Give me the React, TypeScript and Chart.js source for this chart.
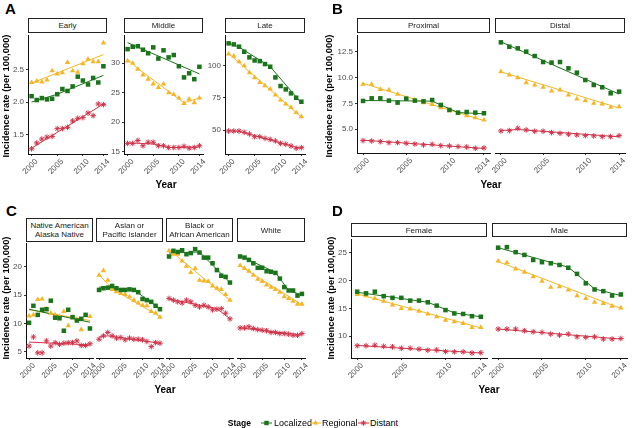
import React, { useEffect, useRef } from "react";
import { Chart, registerables } from "chart.js";

Chart.register(...registerables);

const FONT = "'Liberation Sans', Arial, Helvetica, sans-serif";
const GREEN = "#1B741B";
const YELLOW = "#F5B625";
const RED = "#D03349";
const TICK = "#4D4D4D";

const years = [2000, 2001, 2002, 2003, 2004, 2005, 2006, 2007, 2008, 2009, 2010, 2011, 2012, 2013, 2014];
const xTicks = [2000, 2005, 2010, 2014];
const stageLabels = ["Localized", "Regional", "Distant"];

// ---- Panel A: Early / Middle / Late ----
const earlyLoc = [2.09, 2.03, 2.06, 2.04, 2.05, 2.12, 2.2, 2.17, 2.24, 2.39, 2.33, 2.27, 2.37, 2.3, 2.55];
const earlyReg = [2.3, 2.32, 2.31, 2.34, 2.48, 2.43, 2.45, 2.61, 2.48, 2.46, 2.59, 2.66, 2.62, 2.62, 2.91];
const earlyDist = [1.28, 1.37, 1.43, 1.46, 1.47, 1.59, 1.59, 1.61, 1.71, 1.75, 1.76, 1.83, 1.79, 1.97, 1.96];
const earlyLocFit = [[2000, 2.0], [2005, 2.12], [2014, 2.41]];
const earlyRegFit = [[2000, 2.29], [2014, 2.73]];
const earlyDistFit = [[2000, 1.29], [2014, 1.97]];
const earlyTicks = ["1.5", "2.0", "2.5"];

const middleLoc = [32.4, 32.8, 32.9, 32.3, 31.7, 32.7, 30.8, 32.2, 31.0, 31.4, 29.5, 27.6, 28.3, 27.3, 29.4];
const middleReg = [30.4, 30.0, 29.0, 28.0, 27.3, 26.5, 25.9, 26.5, 25.0, 24.7, 24.1, 23.2, 23.9, 23.3, 24.1];
const middleDist = [16.4, 16.4, 16.9, 16.0, 16.6, 16.6, 16.0, 16.0, 15.7, 15.7, 15.7, 15.9, 15.6, 15.7, 16.0];
const middleLocFit = [[2000, 33.5], [2014, 28.2]];
const middleRegFit = [[2000, 30.6], [2002, 29.1], [2011, 23.3], [2014, 24.1]];
const middleDistFit = [[2000, 16.5], [2005, 16.3], [2008, 15.7], [2014, 15.8]];
const middleTicks = ["15", "20", "25", "30"];

const lateLoc = [117.4, 116.6, 114.8, 110.9, 106.5, 104.1, 103.6, 101.3, 99.2, 90.9, 84.2, 81.6, 78.5, 75.1, 72.0];
const lateReg = [109.1, 107.5, 103.1, 100.0, 94.6, 90.7, 87.0, 84.5, 81.9, 77.2, 73.3, 70.2, 67.6, 63.5, 60.4];
const lateDist = [49.2, 49.2, 49.2, 48.2, 46.9, 44.8, 44.8, 43.5, 42.7, 41.5, 39.6, 38.9, 37.6, 35.8, 36.3];
const lateLocFit = [[2000, 117.6], [2002, 114.5], [2008, 99.3], [2014, 71]];
const lateRegFit = [[2000, 109.5], [2014, 60]];
const lateDistFit = [[2000, 49.5], [2002, 49], [2014, 35.5]];
const lateTicks = ["50", "75", "100"];

// ---- Panel B: Proximal / Distal ----
const proxLoc = [7.74, 7.99, 7.99, 7.77, 7.58, 7.96, 7.77, 7.7, 7.83, 7.35, 6.87, 6.61, 6.67, 6.61, 6.55];
const proxReg = [9.35, 9.35, 8.86, 8.8, 8.38, 7.99, 7.83, 7.58, 7.41, 7.09, 6.8, 6.55, 6.32, 6.13, 5.9];
const proxDist = [3.91, 3.87, 3.81, 3.71, 3.71, 3.65, 3.58, 3.49, 3.55, 3.42, 3.39, 3.33, 3.29, 3.17, 3.2];
const proxLocFit = [[2000, 7.78], [2008, 7.72], [2011, 6.62], [2014, 6.5]];
const proxRegFit = [[2000, 9.44], [2014, 5.84]];
const proxDistFit = [[2000, 3.95], [2014, 3.15]];

const distalLoc = [13.4, 12.98, 12.82, 12.5, 12.08, 11.5, 11.44, 11.5, 10.89, 10.47, 9.76, 9.28, 9.06, 8.48, 8.64];
const distalReg = [10.57, 10.25, 9.99, 9.51, 9.28, 9.06, 8.7, 8.8, 8.32, 7.93, 7.77, 7.51, 7.45, 7.13, 7.19];
const distalDist = [4.84, 4.87, 5.1, 4.94, 4.81, 4.81, 4.68, 4.61, 4.52, 4.45, 4.39, 4.36, 4.29, 4.29, 4.39];
const distalLocFit = [[2000, 13.45], [2014, 8.4]];
const distalRegFit = [[2000, 10.55], [2014, 7.05]];
const distalDistFit = [[2000, 4.88], [2002, 4.98], [2014, 4.28]];
const bTicks = ["5.0", "7.5", "10.0", "12.5"];

// ---- Panel C: race ----
const naLoc = [10.1, 13.1, 11.5, 12.4, 12.5, 14.0, 11.0, 10.9, 8.7, 12.4, 11.1, 10.5, 10.8, 11.5, 9.1];
const naReg = [11.3, 11.5, 14.2, 14.3, 12.5, 11.8, 11.5, 11.2, 12.1, 9.6, 11.0, 10.7, 8.9, 11.4, 11.2];
const naDist = [6.0, 7.6, 4.8, 4.8, 6.9, 6.0, 6.6, 6.3, 6.5, 6.6, 6.6, 6.9, 6.1, 6.1, 6.4];
const naLocFit = [[2000, 12.5], [2014, 10.2]];
const naRegFit = [[2000, 12.4], [2014, 10.5]];
const naDistFit = [[2000, 6.7], [2014, 6.2]];

const asianLoc = [15.9, 16.2, 16.3, 16.6, 16.2, 15.9, 15.9, 16.0, 15.9, 15.5, 14.3, 14.1, 13.8, 13.1, 12.5];
const asianReg = [18.5, 19.3, 17.6, 16.0, 15.6, 15.3, 15.1, 14.7, 14.1, 13.6, 13.2, 13.1, 12.1, 11.8, 11.1];
const asianDist = [7.2, 7.8, 8.4, 7.8, 7.4, 7.5, 7.1, 7.4, 7.2, 7.2, 7.1, 6.8, 5.9, 6.6, 6.5];
const asianLocFit = [[2000, 16.4], [2008, 15.9], [2014, 12.6]];
const asianRegFit = [[2000, 18.6], [2003, 16.1], [2014, 11.2]];
const asianDistFit = [[2000, 7.6], [2002, 7.8], [2014, 6.5]];

const blackLoc = [21.8, 22.8, 22.6, 22.9, 22.2, 22.4, 23.1, 22.5, 21.6, 21.6, 20.6, 19.4, 18.4, 18.2, 17.2];
const blackReg = [22.8, 22.2, 22.2, 21.0, 20.1, 19.0, 19.7, 17.6, 17.5, 17.4, 16.6, 16.2, 16.0, 15.1, 14.1];
const blackDist = [14.4, 14.1, 13.8, 13.6, 14.1, 13.8, 13.2, 12.9, 13.2, 12.9, 12.4, 12.5, 12.6, 11.8, 10.8];
const blackLocFit = [[2000, 22.4], [2007, 22.6], [2014, 17.2]];
const blackRegFit = [[2000, 23.0], [2014, 14.1]];
const blackDistFit = [[2000, 14.3], [2011, 12.6], [2014, 10.8]];

const whiteLoc = [21.8, 21.6, 21.2, 20.6, 19.8, 19.8, 19.2, 19.1, 18.9, 17.9, 16.4, 15.8, 15.8, 14.9, 15.2];
const whiteReg = [20.2, 19.7, 19.2, 18.5, 17.8, 17.4, 16.8, 16.4, 16.0, 15.5, 14.7, 14.4, 13.9, 13.4, 13.4];
const whiteDist = [9.2, 9.2, 9.4, 9.1, 8.9, 8.8, 8.7, 8.4, 8.4, 8.2, 8.2, 8.1, 7.9, 7.9, 8.2];
const whiteLocFit = [[2000, 21.9], [2008, 19.0], [2011, 15.8], [2014, 15.0]];
const whiteRegFit = [[2000, 20.1], [2014, 13.3]];
const whiteDistFit = [[2000, 9.2], [2014, 7.95]];
const cTicks = ["5", "10", "15", "20"];

// ---- Panel D: sex ----
const femaleLoc = [18.0, 17.7, 18.0, 17.2, 16.9, 16.9, 16.4, 16.4, 16.1, 15.5, 14.7, 14.1, 14.0, 13.6, 13.5];
const femaleReg = [17.5, 17.3, 16.8, 16.3, 15.6, 15.0, 14.9, 14.5, 14.0, 13.5, 12.9, 12.6, 12.3, 11.6, 11.6];
const femaleDist = [8.3, 8.3, 8.4, 8.2, 8.1, 7.85, 7.85, 7.7, 7.5, 7.55, 7.25, 7.2, 7.2, 7.0, 7.05];
const femaleLocFit = [[2000, 17.9], [2008, 16.1], [2011, 14.2], [2014, 13.5]];
const femaleRegFit = [[2000, 17.6], [2014, 11.5]];
const femaleDistFit = [[2000, 8.35], [2014, 7.0]];

const maleLoc = [25.9, 26.0, 25.1, 24.6, 23.7, 23.3, 23.1, 22.8, 22.3, 21.2, 19.5, 18.4, 18.1, 17.3, 17.5];
const maleReg = [23.5, 23.2, 22.1, 21.5, 20.7, 19.9, 18.8, 18.9, 18.3, 17.3, 16.8, 16.1, 15.9, 15.4, 15.1];
const maleDist = [11.3, 11.3, 11.3, 11.0, 10.8, 10.7, 10.4, 10.2, 10.4, 9.9, 9.8, 9.9, 9.5, 9.5, 9.6];
const maleLocFit = [[2000, 25.9], [2008, 22.4], [2011, 18.5], [2014, 17.3]];
const maleRegFit = [[2000, 23.4], [2014, 15.0]];
const maleDistFit = [[2000, 11.3], [2014, 9.5]];
const dTicks = ["10", "15", "20", "25"];

type Fit = number[][];
interface PanelCfg {
  strip: string[];
  left: number; top: number; right: number; bottom: number;
  stripTop: number; stripBottom: number;
  showY: boolean; yMin: number; yMax: number; yTicks: string[];
  loc: number[]; reg: number[]; dist: number[];
  locFit: Fit; regFit: Fit; distFit: Fit;
}

const panels: PanelCfg[] = [
  { strip: ["Early"], left: 28, right: 107, top: 35, bottom: 154, stripTop: 18, stripBottom: 33, showY: true, yMin: 1.2, yMax: 3.031, yTicks: earlyTicks, loc: earlyLoc, reg: earlyReg, dist: earlyDist, locFit: earlyLocFit, regFit: earlyRegFit, distFit: earlyDistFit },
  { strip: ["Middle"], left: 124, right: 203, top: 35, bottom: 154, stripTop: 18, stripBottom: 33, showY: true, yMin: 14.6, yMax: 34.8, yTicks: middleTicks, loc: middleLoc, reg: middleReg, dist: middleDist, locFit: middleLocFit, regFit: middleRegFit, distFit: middleDistFit },
  { strip: ["Late"], left: 225, right: 305, top: 35, bottom: 154, stripTop: 18, stripBottom: 33, showY: true, yMin: 31.34, yMax: 123.9, yTicks: lateTicks, loc: lateLoc, reg: lateReg, dist: lateDist, locFit: lateLocFit, regFit: lateRegFit, distFit: lateDistFit },
  { strip: ["Proximal"], left: 357, right: 490, top: 35, bottom: 153, stripTop: 18, stripBottom: 33, showY: true, yMin: 2.71, yMax: 14.11, yTicks: bTicks, loc: proxLoc, reg: proxReg, dist: proxDist, locFit: proxLocFit, regFit: proxRegFit, distFit: proxDistFit },
  { strip: ["Distal"], left: 495, right: 625, top: 35, bottom: 153, stripTop: 18, stripBottom: 33, showY: false, yMin: 2.71, yMax: 14.11, yTicks: bTicks, loc: distalLoc, reg: distalReg, dist: distalDist, locFit: distalLocFit, regFit: distalRegFit, distFit: distalDistFit },
  { strip: ["Native American", "Alaska Native"], left: 26, right: 93, top: 243, bottom: 358, stripTop: 218, stripBottom: 242, showY: true, yMin: 3.89, yMax: 24.18, yTicks: cTicks, loc: naLoc, reg: naReg, dist: naDist, locFit: naLocFit, regFit: naRegFit, distFit: naDistFit },
  { strip: ["Asian or", "Pacific Islander"], left: 96, right: 163, top: 243, bottom: 358, stripTop: 218, stripBottom: 242, showY: false, yMin: 3.89, yMax: 24.18, yTicks: cTicks, loc: asianLoc, reg: asianReg, dist: asianDist, locFit: asianLocFit, regFit: asianRegFit, distFit: asianDistFit },
  { strip: ["Black or", "African American"], left: 166, right: 233, top: 243, bottom: 358, stripTop: 218, stripBottom: 242, showY: false, yMin: 3.89, yMax: 24.18, yTicks: cTicks, loc: blackLoc, reg: blackReg, dist: blackDist, locFit: blackLocFit, regFit: blackRegFit, distFit: blackDistFit },
  { strip: ["White"], left: 237, right: 305, top: 243, bottom: 358, stripTop: 218, stripBottom: 242, showY: false, yMin: 3.89, yMax: 24.18, yTicks: cTicks, loc: whiteLoc, reg: whiteReg, dist: whiteDist, locFit: whiteLocFit, regFit: whiteRegFit, distFit: whiteDistFit },
  { strip: ["Female"], left: 351, right: 487, top: 239, bottom: 358, stripTop: 223, stripBottom: 237, showY: true, yMin: 6.1, yMax: 27.46, yTicks: dTicks, loc: femaleLoc, reg: femaleReg, dist: femaleDist, locFit: femaleLocFit, regFit: femaleRegFit, distFit: femaleDistFit },
  { strip: ["Male"], left: 492, right: 627, top: 239, bottom: 358, stripTop: 223, stripBottom: 237, showY: false, yMin: 6.1, yMax: 27.46, yTicks: dTicks, loc: maleLoc, reg: maleReg, dist: maleDist, locFit: maleLocFit, regFit: maleRegFit, distFit: maleDistFit },
];

const PAD_T = 6;
const PAD_R = 10;
const X_H = 28;

function PanelChart({ p }: { p: PanelCfg }) {
  const ref = useRef<HTMLCanvasElement>(null);
  const padL = p.showY ? 2 : 16;
  const yW = p.showY ? 24 : 0;
  const w = padL + yW + (p.right - p.left) + PAD_R;
  const h = PAD_T + (p.bottom - p.top) + X_H;
  const cl = p.left - padL - yW;
  const ct = p.top - PAD_T;

  useEffect(() => {
    const pts = (vals: number[]) => years.map((x, i) => ({ x, y: vals[i] }));
    const fit = (f: Fit) => f.map(([x, y]) => ({ x, y }));
    const mk = (vals: number[], f: Fit, color: string, style: string, r: number, label: string) => [
      {
        label,
        data: pts(vals),
        showLine: false,
        pointStyle: style,
        pointRadius: r,
        pointHoverRadius: r,
        backgroundColor: color,
        borderColor: color,
        borderWidth: style === "star" ? 1 : 0,
        order: 1,
        clip: false,
      },
      {
        label: label + " fit",
        data: fit(f),
        showLine: true,
        pointRadius: 0,
        pointHoverRadius: 0,
        borderColor: color,
        backgroundColor: color,
        borderWidth: 1,
        order: 2,
        clip: false,
        fill: false,
        tension: 0,
      },
    ];
    const tickVals = p.yTicks.map((t) => parseFloat(t));
    const chart = new Chart(ref.current as HTMLCanvasElement, {
      type: "scatter",
      data: {
        datasets: [
          ...mk(p.loc, p.locFit, GREEN, "rect", 3.2, stageLabels[0]),
          ...mk(p.reg, p.regFit, YELLOW, "triangle", 3.1, stageLabels[1]),
          ...mk(p.dist, p.distFit, RED, "star", 2.8, stageLabels[2]),
        ] as any,
      },
      options: {
        responsive: false,
        animation: false,
        events: [],
        layout: { padding: { left: padL, right: PAD_R, top: PAD_T, bottom: 0 }, autoPadding: false },
        plugins: { legend: { display: false }, tooltip: { enabled: false }, title: { display: false } },
        scales: {
          x: {
            type: "linear",
            position: "bottom",
            min: 1999.3,
            max: 2014.7,
            afterBuildTicks: (s: any) => {
              s.ticks = xTicks.map((v) => ({ value: v }));
            },
            afterFit: (s: any) => {
              s.height = X_H;
              s.paddingLeft = 0;
              s.paddingRight = 0;
            },
            ticks: {
              autoSkip: false,
              minRotation: 45,
              maxRotation: 45,
              padding: 1,
              labelOffset: 5,
              color: TICK,
              font: { family: FONT, size: 8 },
              callback: (v: any) => String(v),
            },
            grid: { display: true, drawOnChartArea: false, drawTicks: true, tickLength: 2, color: "#333", lineWidth: 1 },
            border: { display: true, color: "#111", width: 1 },
          },
          y: {
            type: "linear",
            position: "left",
            display: p.showY,
            min: p.yMin,
            max: p.yMax,
            afterBuildTicks: (s: any) => {
              s.ticks = tickVals.map((v) => ({ value: v }));
            },
            afterFit: (s: any) => {
              s.width = yW;
              s.paddingTop = 0;
              s.paddingBottom = 0;
            },
            ticks: {
              padding: 2,
              color: TICK,
              font: { family: FONT, size: 8 },
              callback: (_v: any, i: number) => p.yTicks[i],
            },
            grid: { display: true, drawOnChartArea: false, drawTicks: true, tickLength: 2, color: "#333", lineWidth: 1 },
            border: { display: true, color: "#111", width: 1 },
          },
        },
      } as any,
    });
    return () => chart.destroy();
  }, []);

  return (
    <canvas
      ref={ref}
      width={w}
      height={h}
      style={{ position: "absolute", left: cl, top: ct, width: w, height: h }}
    />
  );
}

function Strip({ p }: { p: PanelCfg }) {
  return (
    <div
      style={{
        position: "absolute",
        left: p.left,
        top: p.stripTop,
        width: p.right - p.left,
        height: p.stripBottom - p.stripTop,
        boxSizing: "border-box",
        border: "1px solid #222",
        background: "#fff",
        display: "flex",
        alignItems: "center",
        justifyContent: "center",
        textAlign: "center",
        fontFamily: FONT,
        fontSize: 8,
        lineHeight: "9px",
        color: "#1A1A1A",
        whiteSpace: "nowrap",
      }}
    >
      <div>
        {p.strip.map((s, i) => (
          <div key={i}>{s}</div>
        ))}
      </div>
    </div>
  );
}

const letters = [
  { t: "A", x: 5, y: 1 },
  { t: "B", x: 332, y: 1 },
  { t: "C", x: 6, y: 203 },
  { t: "D", x: 332, y: 203 },
];
const yTitles = [
  { x: 5, y: 96 },
  { x: 328, y: 96 },
  { x: 5, y: 298 },
  { x: 330, y: 298 },
];
const xTitles = [
  { x: 166, y: 184 },
  { x: 491, y: 184 },
  { x: 165, y: 389 },
  { x: 489, y: 389 },
];

function LegendKey({ x, color, kind }: { x: number; color: string; kind: string }) {
  const cy = 6;
  let marker: any = null;
  if (kind === "rect") marker = <rect x={3.3} y={cy - 2.2} width={4.4} height={4.4} fill={color} />;
  else if (kind === "triangle") marker = <polygon points={`5.5,${cy - 3} 8.1,${cy + 1.5} 2.9,${cy + 1.5}`} fill={color} />;
  else
    marker = (
      <g stroke={color} strokeWidth={1}>
        <line x1={5.5} y1={cy - 2.7} x2={5.5} y2={cy + 2.7} />
        <line x1={2.8} y1={cy} x2={8.2} y2={cy} />
        <line x1={3.6} y1={cy - 1.9} x2={7.4} y2={cy + 1.9} />
        <line x1={3.6} y1={cy + 1.9} x2={7.4} y2={cy - 1.9} />
      </g>
    );
  return (
    <svg width={11} height={12} style={{ position: "absolute", left: x - 5.5, top: 417 }}>
      <line x1={0} y1={cy} x2={11} y2={cy} stroke={color} strokeWidth={1} />
      {marker}
    </svg>
  );
}

export default function App() {
  const txt: any = { position: "absolute", fontFamily: FONT, whiteSpace: "nowrap" };
  return (
    <div style={{ position: "fixed", left: 0, top: 0, width: 633, height: 428, background: "#fff", overflow: "hidden" }}>
      {panels.map((p, i) => (
        <PanelChart key={"c" + i} p={p} />
      ))}
      {panels.map((p, i) => (
        <Strip key={"s" + i} p={p} />
      ))}
      {letters.map((l) => (
        <div key={l.t} style={{ ...txt, left: l.x, top: l.y, fontSize: 15, lineHeight: "15px", fontWeight: 700, color: "#000" }}>
          {l.t}
        </div>
      ))}
      {yTitles.map((t, i) => (
        <div
          key={"yt" + i}
          style={{
            ...txt,
            left: t.x,
            top: t.y,
            fontSize: 9.4,
            fontWeight: 700,
            color: "#000",
            transform: "translate(-50%, -50%) rotate(-90deg)",
          }}
        >
          Incidence rate (per 100,000)
        </div>
      ))}
      {xTitles.map((t, i) => (
        <div
          key={"xt" + i}
          style={{ ...txt, left: t.x, top: t.y, fontSize: 10, fontWeight: 700, color: "#000", transform: "translate(-50%, -50%)" }}
        >
          Year
        </div>
      ))}
      <div style={{ ...txt, left: 200, width: 51, textAlign: "right", top: 417, fontSize: 8.5, lineHeight: "12px", fontWeight: 700 }}>Stage</div>
      <LegendKey x={266.5} color={GREEN} kind="rect" />
      <div style={{ ...txt, left: 274, top: 417, fontSize: 9, lineHeight: "12px", color: "#000" }}>{stageLabels[0]}</div>
      <LegendKey x={315.5} color={YELLOW} kind="triangle" />
      <div style={{ ...txt, left: 322, top: 417, fontSize: 9, lineHeight: "12px", color: "#000" }}>{stageLabels[1]}</div>
      <LegendKey x={363.5} color={RED} kind="star" />
      <div style={{ ...txt, left: 370, top: 417, fontSize: 9, lineHeight: "12px", color: "#000" }}>{stageLabels[2]}</div>
    </div>
  );
}
